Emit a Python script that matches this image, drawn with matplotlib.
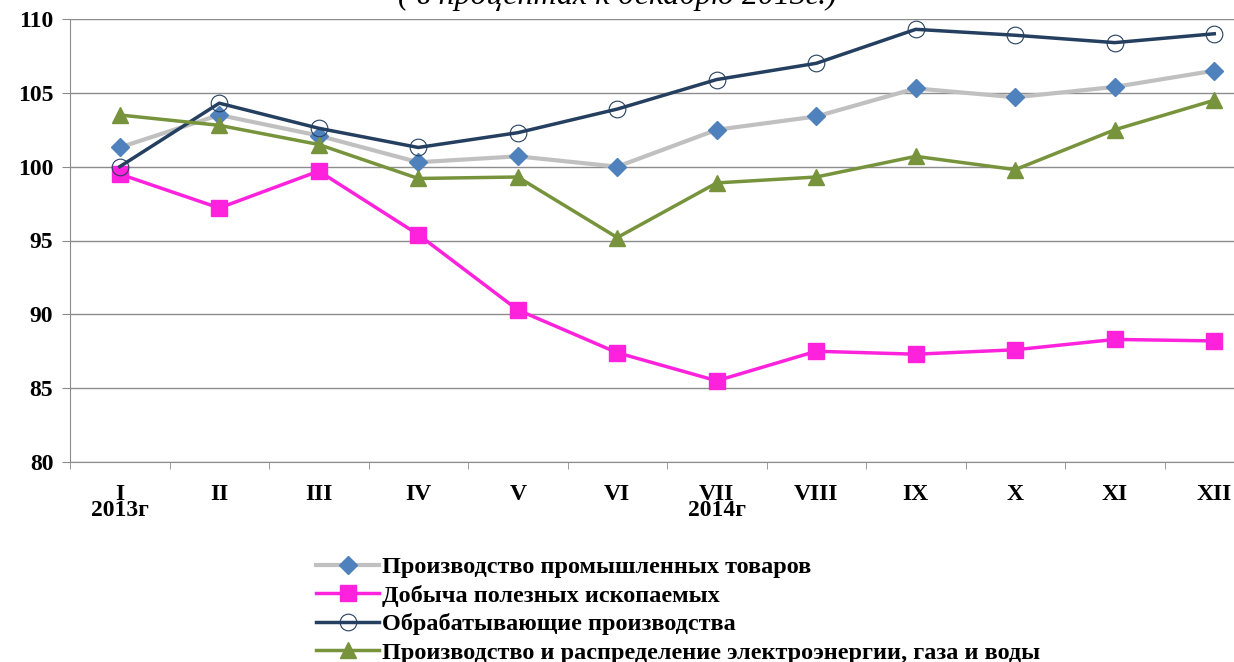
import matplotlib
matplotlib.use("Agg")
import matplotlib.pyplot as plt
import numpy as np

# Месяцы
months = ["I\n2013г", "II", "III", "IV", "V", "VI", "VII\n2014г", "VIII", "IX", "X", "XI", "XII"]

# Индексы (в процентах к декабрю 2013г.)
prom_tovary = [101.3, 103.5, 102.1, 100.3, 100.7, 100.0, 102.5, 103.4, 105.3, 104.7, 105.4, 106.5]
dobycha = [99.5, 97.2, 99.7, 95.4, 90.3, 87.4, 85.5, 87.5, 87.3, 87.6, 88.3, 88.2]
obrabat = [100.0, 104.3, 102.6, 101.3, 102.3, 103.9, 105.9, 107.0, 109.3, 108.9, 108.4, 109.0]
elektro = [103.5, 102.8, 101.5, 99.2, 99.3, 95.2, 98.9, 99.3, 100.7, 99.8, 102.5, 104.5]

labels = ["Производство промышленных товаров",
          "Добыча полезных ископаемых",
          "Обрабатывающие производства",
          "Производство и распределение электроэнергии, газа и воды"]

plt.rcParams['font.family'] = ['Liberation Serif', 'DejaVu Serif']

fig = plt.figure(figsize=(12.34, 6.62), dpi=100)
ax = fig.add_axes([70 / 1234, 200 / 662, 1194 / 1234, 443 / 662])

x = np.arange(len(months))
ax.plot(x, prom_tovary, color="#C0C0C0", lw=3, marker="D", ms=9,
        mfc="#4F81BD", mec="#4F81BD", label=labels[0])
ax.plot(x, dobycha, color="#FF22DD", lw=2.5, marker="s", ms=11,
        mfc="#FF22DD", mec="#FF22DD", label=labels[1])
ax.plot(x, obrabat, color="#243F60", lw=2.5, marker="o", ms=12,
        mfc="none", mec="#243F60", mew=0.8, label=labels[2])
ax.plot(x, elektro, color="#77933C", lw=2.5, marker="^", ms=11,
        mfc="#77933C", mec="#77933C", label=labels[3])

ax.set_xlim(-0.5, len(months) - 0.5)
ax.set_ylim(80, 110)
ax.set_yticks(np.arange(80, 111, 5))
ax.yaxis.grid(True, color="#8C8C8C", lw=1)
ax.set_axisbelow(True)

ax.set_xticks(x)
ax.set_xticklabels(months, fontsize=17, fontweight="bold", linespacing=0.7)
ax.set_xticks(np.arange(-0.5, len(months), 1), minor=True)
ax.tick_params(axis="x", which="major", length=0, pad=16)
ax.tick_params(axis="x", which="minor", length=5, color="#8C8C8C", direction="out")
ax.tick_params(axis="y", length=6, color="#8C8C8C", labelsize=17, pad=6)
for t in ax.get_yticklabels():
    t.set_fontweight("bold")

for s in ["top", "right"]:
    ax.spines[s].set_visible(False)
for s in ["left", "bottom"]:
    ax.spines[s].set_color("#8C8C8C")

fig.text(0.5, 1 - 4 / 662, "( в процентах к декабрю 2013г.)", ha="center", va="baseline",
         fontsize=23, style="italic")

leg = fig.legend(loc="upper left", bbox_to_anchor=(316 / 1234, 1 - 556 / 662), frameon=False,
                 prop={"size": 17.5, "weight": "bold"}, labelspacing=0.27, handlelength=2.6,
                 handletextpad=0.1, borderaxespad=0, borderpad=0)

fig.savefig("out.png", dpi=100)
